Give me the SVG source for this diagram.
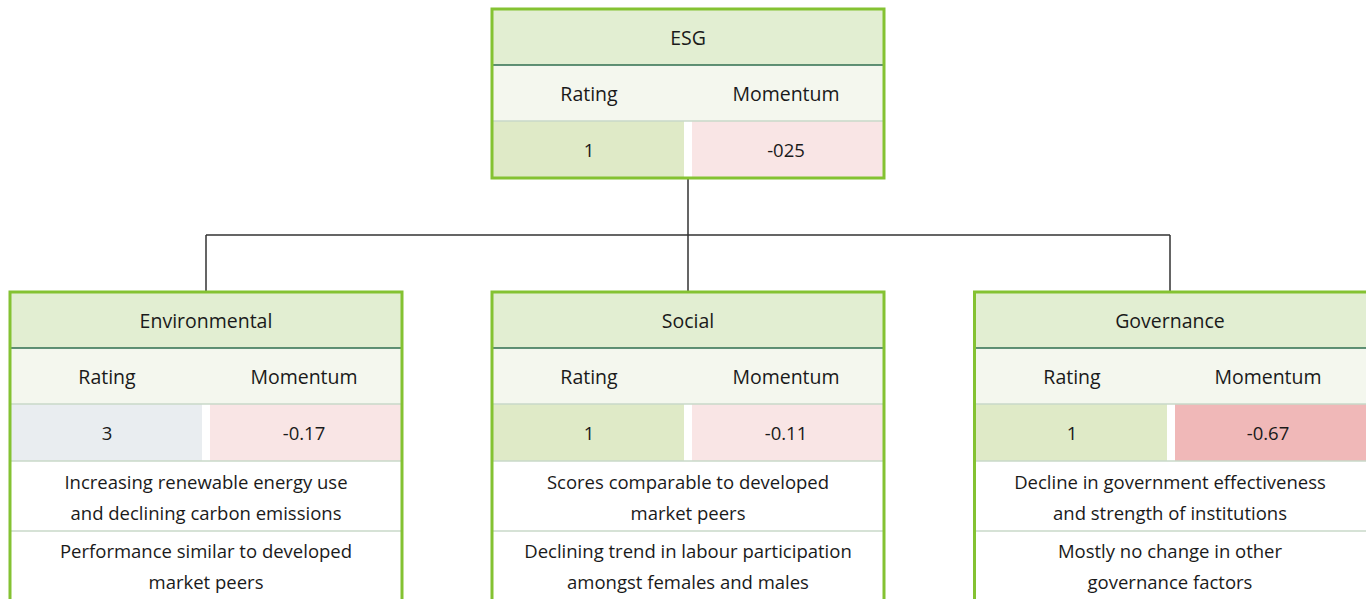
<svg xmlns="http://www.w3.org/2000/svg" width="1366" height="599" viewBox="0 0 1366 599">
<style>
text{font-family:"Open Sans","Noto Sans","Liberation Sans",sans-serif;font-size:18.5px;fill:#1a1a1a;text-anchor:middle}
.t{font-size:19.5px;font-weight:500}
.l{font-size:19.5px}
.hd{fill:#e2eed2}
.r2{fill:#f4f7ee}
.g{fill:#dfeac7}
.gr{fill:#e9edf0}
.p{fill:#f9e5e5}
.pd{fill:#f0b8b8}
.hl{stroke:#2f6e4f;stroke-width:1.5}
.sl{stroke:#c9d8c9;stroke-width:1.5}
.bd{fill:none;stroke:#84c232;stroke-width:3}
.cn{fill:none;stroke:#333333;stroke-width:1.5}
</style>
<rect width="1366" height="599" fill="#ffffff"/>
<g id="connectors">
<path class="cn" d="M688 179V235M206 235H1170M206 235V291M688 235V291M1170 235V291"/>
</g>
<g id="esg">
<rect class="hd" x="491" y="8" width="394" height="57"/>
<rect class="r2" x="491" y="65" width="394" height="56"/>
<rect class="g" x="491" y="121" width="193" height="58"/>
<rect class="p" x="692" y="121" width="193" height="58"/>
<line class="hl" x1="491" y1="65" x2="885" y2="65"/>
<line class="sl" x1="491" y1="121" x2="885" y2="121"/>
<rect class="bd" x="492" y="9" width="392" height="169"/>
<text class="t" x="688" y="45">ESG</text>
<text class="l" x="589" y="101">Rating</text>
<text class="l" x="786" y="101">Momentum</text>
<text x="589" y="157">1</text>
<text x="786" y="157">-025</text>
</g>
<g id="environmental">
<rect class="hd" x="9" y="291" width="394" height="57"/>
<rect class="r2" x="9" y="348" width="394" height="56"/>
<rect class="gr" x="9" y="404" width="193" height="57"/>
<rect class="p" x="210" y="404" width="193" height="57"/>
<line class="hl" x1="9" y1="348" x2="403" y2="348"/>
<line class="sl" x1="9" y1="404" x2="403" y2="404"/>
<line class="sl" x1="9" y1="461" x2="403" y2="461"/>
<line class="sl" x1="9" y1="531" x2="403" y2="531"/>
<path class="bd" d="M10 602V292H402V602"/>
<text class="t" x="206" y="328">Environmental</text>
<text class="l" x="107" y="384">Rating</text>
<text class="l" x="304" y="384">Momentum</text>
<text x="107" y="440">3</text>
<text x="304" y="440">-0.17</text>
<text x="206" y="489">Increasing renewable energy use</text>
<text x="206" y="520">and declining carbon emissions</text>
<text x="206" y="558">Performance similar to developed</text>
<text x="206" y="589">market peers</text>
</g>
<g id="social">
<rect class="hd" x="491" y="291" width="394" height="57"/>
<rect class="r2" x="491" y="348" width="394" height="56"/>
<rect class="g" x="491" y="404" width="193" height="57"/>
<rect class="p" x="692" y="404" width="193" height="57"/>
<line class="hl" x1="491" y1="348" x2="885" y2="348"/>
<line class="sl" x1="491" y1="404" x2="885" y2="404"/>
<line class="sl" x1="491" y1="461" x2="885" y2="461"/>
<line class="sl" x1="491" y1="531" x2="885" y2="531"/>
<path class="bd" d="M492 602V292H884V602"/>
<text class="t" x="688" y="328">Social</text>
<text class="l" x="589" y="384">Rating</text>
<text class="l" x="786" y="384">Momentum</text>
<text x="589" y="440">1</text>
<text x="786" y="440">-0.11</text>
<text x="688" y="489">Scores comparable to developed</text>
<text x="688" y="520">market peers</text>
<text x="688" y="558">Declining trend in labour participation</text>
<text x="688" y="589">amongst females and males</text>
</g>
<g id="governance">
<rect class="hd" x="973" y="291" width="394" height="57"/>
<rect class="r2" x="973" y="348" width="394" height="56"/>
<rect class="g" x="973" y="404" width="194" height="57"/>
<rect class="pd" x="1175" y="404" width="192" height="57"/>
<line class="hl" x1="973" y1="348" x2="1367" y2="348"/>
<line class="sl" x1="973" y1="404" x2="1367" y2="404"/>
<line class="sl" x1="973" y1="461" x2="1367" y2="461"/>
<line class="sl" x1="973" y1="531" x2="1367" y2="531"/>
<path class="bd" d="M974.5 602V292H1368"/>
<text class="t" x="1170" y="328">Governance</text>
<text class="l" x="1072" y="384">Rating</text>
<text class="l" x="1268" y="384">Momentum</text>
<text x="1072" y="440">1</text>
<text x="1268" y="440">-0.67</text>
<text x="1170" y="489">Decline in government effectiveness</text>
<text x="1170" y="520">and strength of institutions</text>
<text x="1170" y="558">Mostly no change in other</text>
<text x="1170" y="589">governance factors</text>
</g>
</svg>
